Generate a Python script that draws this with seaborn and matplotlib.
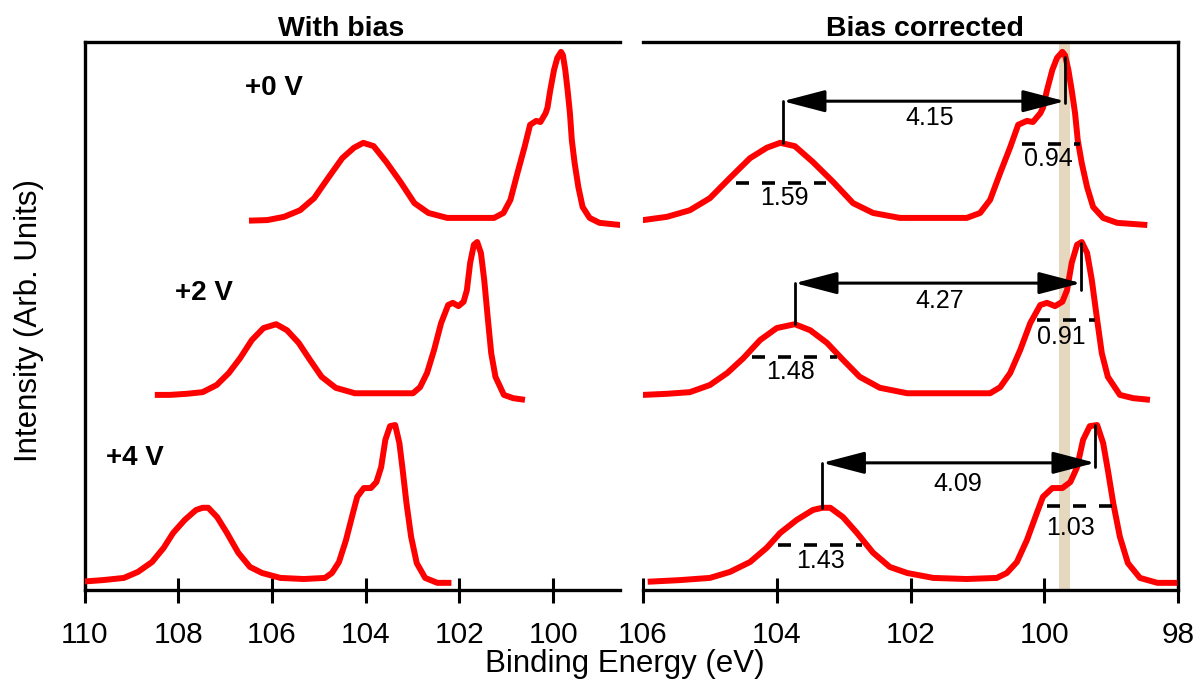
import numpy as np
import pandas as pd
import matplotlib
matplotlib.use("Agg")
import matplotlib.pyplot as plt
import seaborn as sns

# ---------------- data ----------------
bias_labels = ["+0 V", "+2 V", "+4 V"]
energy_shift = [0.10, 2.18, 4.16]          # measured-energy offset of each spectrum (eV)

# spectra in bias-corrected binding energy (eV) and intensity (arb. units, stacked)
e_0v = [106.39, 106.00, 105.64, 105.30, 105.00, 104.70, 104.40, 104.15, 103.95, 103.73,
        103.46, 103.16, 102.86, 102.56, 102.16, 101.66, 101.16, 100.96, 100.81, 100.66,
        100.51, 100.39, 100.26, 100.17, 100.06, 100.02, 99.96, 99.88, 99.81, 99.73,
        99.69, 99.64, 99.59, 99.54, 99.50, 99.44, 99.36, 99.27, 99.12, 98.91, 98.46]
i_0v = [67.4, 67.5, 68.1, 69.3, 71.5, 75.2, 78.8, 80.7, 81.6, 81.0,
        78.1, 74.5, 70.6, 68.8, 67.9, 67.9, 67.9, 68.8, 71.2, 76.1,
        80.8, 84.9, 85.6, 85.4, 87.0, 88.0, 91.2, 94.9, 97.1, 98.2,
        97.6, 94.9, 91.2, 87.0, 82.1, 77.9, 73.5, 69.9, 67.9, 67.0, 66.6]

e_2v = [106.32, 106.00, 105.64, 105.30, 105.00, 104.74, 104.50, 104.25, 104.00, 103.73,
        103.50, 103.25, 103.01, 102.76, 102.46, 102.05, 101.66, 101.16, 100.81, 100.66,
        100.51, 100.36, 100.21, 100.06, 99.96, 99.84, 99.73, 99.66, 99.59, 99.51,
        99.44, 99.36, 99.29, 99.21, 99.14, 99.05, 98.87, 98.67, 98.42]
i_2v = [35.6, 35.6, 35.8, 36.1, 37.4, 39.6, 42.3, 45.6, 47.8, 48.5,
        47.4, 45.1, 42.0, 38.9, 36.9, 35.9, 35.9, 35.9, 35.9, 37.0,
        39.6, 43.8, 48.7, 52.0, 52.4, 51.8, 52.6, 54.7, 59.7, 63.0,
        63.5, 61.5, 56.6, 49.3, 43.2, 38.9, 35.6, 35.0, 34.7]

e_4v = [105.93, 105.45, 105.00, 104.70, 104.40, 104.15, 103.95, 103.70, 103.46, 103.32,
        103.20, 103.01, 102.80, 102.56, 102.31, 102.05, 101.66, 101.16, 100.71, 100.56,
        100.41, 100.26, 100.11, 100.02, 99.88, 99.73, 99.61, 99.51, 99.42, 99.32,
        99.21, 99.12, 99.05, 98.97, 98.87, 98.75, 98.57, 98.31, 98.01]
i_4v = [1.5, 1.8, 2.2, 3.3, 5.1, 7.7, 10.4, 12.8, 14.6, 15.0,
        15.0, 13.3, 10.4, 6.8, 4.2, 3.1, 2.2, 2.0, 2.2, 3.1,
        5.1, 9.1, 14.1, 17.0, 18.6, 18.6, 19.7, 22.4, 27.4, 29.9,
        30.1, 26.8, 21.9, 15.9, 9.7, 4.9, 2.2, 1.3, 1.3]

# label positions for the bias annotations (measured energy, intensity)
bias_label_E = [106.57, 108.07, 109.54]
bias_label_y = [90.3, 52.9, 22.8]

# peak separation annotations (corrected panel)
broad_peak_E = [103.91, 103.73, 103.32]
broad_peak_top = [81.6, 48.5, 15.0]
main_peak_E = [99.69, 99.45, 99.24]
main_line_top = [97.3, 63.3, 30.1]
main_line_bottom = [88.9, 54.7, 22.4]
arrow_y = [89.2, 56.0, 23.2]
sep_labels = ["4.15", "4.27", "4.09"]
sep_label_E = [101.72, 101.56, 101.30]
sep_label_y = [86.1, 52.7, 19.3]

# FWHM markers
fwhm_broad_E0 = [104.61, 104.37, 103.98]
fwhm_broad_E1 = [103.26, 103.10, 102.73]
fwhm_broad_y = [74.3, 42.5, 8.2]
fwhm_broad_labels = ["1.59", "1.48", "1.43"]
fwhm_broad_label_E = [103.88, 103.79, 103.35]
fwhm_broad_label_y = [71.5, 39.8, 5.3]

fwhm_main_E0 = [100.33, 100.11, 99.96]
fwhm_main_E1 = [99.47, 99.24, 98.99]
fwhm_main_y = [81.4, 49.3, 15.3]
fwhm_main_labels = ["0.94", "0.91", "1.03"]
fwhm_main_label_E = [99.94, 99.75, 99.61]
fwhm_main_label_y = [78.6, 46.2, 11.3]

band_E = [99.61, 99.78]

left_ticks = [110, 108, 106, 104, 102, 100]
right_ticks = [106, 104, 102, 100, 98]

# ---------------- build tables ----------------
spectra_E = [e_0v, e_2v, e_4v]
spectra_I = [i_0v, i_2v, i_4v]
rows = []
for lab, sh, E, I in zip(bias_labels, energy_shift, spectra_E, spectra_I):
    for e, v in zip(E, I):
        rows.append({"bias": lab, "corrected": e, "measured": e + sh, "intensity": v})
df = pd.DataFrame(rows)

# ---------------- style ----------------
sns.set_theme(style="white")
plt.rcParams["font.family"] = ["Liberation Sans", "DejaVu Sans"]
plt.rcParams["axes.linewidth"] = 2.4
plt.rcParams["text.color"] = "black"
plt.rcParams["xtick.color"] = "black"
plt.rcParams["xtick.labelcolor"] = "black"
plt.rcParams["axes.labelcolor"] = "black"

fig = plt.figure(figsize=(12.01, 6.83), dpi=100)
ax_l = fig.add_axes([0.0704, 0.1362, 0.4459, 0.8023])
ax_r = fig.add_axes([0.5354, 0.1362, 0.4455, 0.8023])

red = "#FF0000"
pal = {b: red for b in bias_labels}

ax_r.axvspan(band_E[0], band_E[1], color="#E5D8BF", lw=0, zorder=0)

line_kw = dict(estimator=None, sort=False, legend=False, lw=4.3,
               solid_joinstyle="round", solid_capstyle="butt", zorder=3)
sns.lineplot(data=df, x="measured", y="intensity", hue="bias", palette=pal, ax=ax_l, **line_kw)
sns.lineplot(data=df, x="corrected", y="intensity", hue="bias", palette=pal, ax=ax_r, **line_kw)

for ax in (ax_l, ax_r):
    ax.set_ylim(0, 100)
    ax.set_yticks([])
    ax.set_xlabel("")
    ax.set_ylabel("")
    for s in ax.spines.values():
        s.set_color("black")
        s.set_linewidth(2.4)
    ax.tick_params(axis="x", direction="inout", length=18, width=2.2,
                   labelsize=21.5, pad=13, colors="black", labelcolor="black", bottom=True)
    ax.set_facecolor("white")

ax_l.set_xlim(110, 98.57)
ax_l.set_xticks(left_ticks)
ax_l.set_xticklabels([str(t) for t in left_ticks])
ax_l.spines["right"].set_visible(False)

ax_r.set_xlim(106, 98)
ax_r.set_xticks(right_ticks)
ax_r.set_xticklabels([str(t) for t in right_ticks])
ax_r.spines["left"].set_visible(False)

# bias labels
for lab, e, y in zip(bias_labels, bias_label_E, bias_label_y):
    ax_l.text(e, y, lab, fontsize=20, fontweight="bold", ha="left", va="baseline", color="black")

# annotations in corrected panel
for k in range(3):
    ax_r.plot([broad_peak_E[k], broad_peak_E[k]], [broad_peak_top[k], arrow_y[k]],
              color="black", lw=2.0, zorder=4)
    ax_r.plot([main_peak_E[k], main_peak_E[k]], [main_line_top[k], main_line_bottom[k]],
              color="black", lw=2.0, zorder=4)
    ax_r.annotate("", xy=(main_peak_E[k], arrow_y[k]), xytext=(broad_peak_E[k], arrow_y[k]),
                  arrowprops=dict(arrowstyle="<|-|>,head_length=1.3,head_width=0.34",
                                  mutation_scale=20, lw=2.2, color="black",
                                  shrinkA=0, shrinkB=0), zorder=4)
    ax_r.text(sep_label_E[k], sep_label_y[k], sep_labels[k], fontsize=18,
              ha="center", va="center", color="black")
    ax_r.plot([fwhm_broad_E0[k], fwhm_broad_E1[k]], [fwhm_broad_y[k]] * 2,
              color="black", lw=2.6, dashes=(3.6, 3.6), zorder=4)
    ax_r.text(fwhm_broad_label_E[k], fwhm_broad_label_y[k], fwhm_broad_labels[k],
              fontsize=18, ha="center", va="center", color="black")
    ax_r.plot([fwhm_main_E0[k], fwhm_main_E1[k]], [fwhm_main_y[k]] * 2,
              color="black", lw=2.6, dashes=(3.6, 3.6), zorder=4)
    ax_r.text(fwhm_main_label_E[k], fwhm_main_label_y[k], fwhm_main_labels[k],
              fontsize=18, ha="center", va="center", color="black")

# titles and axis labels
fig.text(341 / 1201, 1 - 36 / 683, "With bias", fontsize=20.5, fontweight="bold",
         ha="center", va="baseline", color="black")
fig.text(925 / 1201, 1 - 36 / 683, "Bias corrected", fontsize=20.5, fontweight="bold",
         ha="center", va="baseline", color="black")
fig.text(625 / 1201, 1 - 672 / 683, "Binding Energy (eV)", fontsize=22.5,
         ha="center", va="baseline", color="black")
fig.text(29 / 1201, 1 - 321 / 683, "Intensity (Arb. Units)", fontsize=22.5,
         rotation=90, ha="center", va="center", color="black")

fig.savefig("out.png", dpi=100, facecolor="white")
